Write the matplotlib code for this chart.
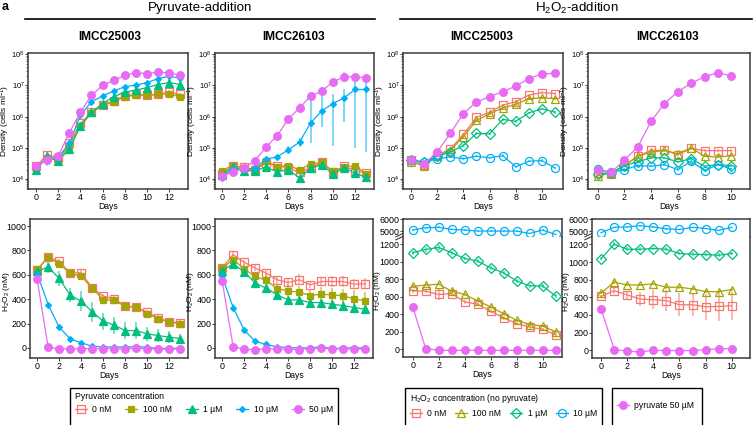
import numpy as np
import matplotlib
matplotlib.use("Agg")
import matplotlib.pyplot as plt
from matplotlib.lines import Line2D
from matplotlib.patches import Rectangle
from matplotlib.ticker import LogLocator, NullFormatter

plt.rcParams['font.family'] = ['Liberation Sans', 'DejaVu Sans']

W, H = 754, 425

# ggplot hue palette: 0 nM, 100 nM, 1 uM, 10 uM, 50 uM pyruvate
COLS = ['#F8766D', '#A3A500', '#00BF7D', '#00B0F6', '#E76BF3']

pyr_labels = ['0 nM', '100 nM', '1 µM', '10 µM', '50 µM']
h2o2_labels = ['0 nM', '100 nM', '1 µM', '10 µM']
pyr50_label = 'pyruvate 50 µM'

days_pyr = list(range(14))
days_h25 = list(range(12))
days_h26 = list(range(11))

# ---- density, log10(cells/ml) ----
den_pyr_25 = [
    [4.41, 4.78, 4.68, 5.14, 5.78, 6.14, 6.38, 6.50, 6.66, 6.71, 6.69, 6.71, 6.79, 6.71],
    [4.32, 4.68, 4.60, 5.07, 5.71, 6.12, 6.36, 6.47, 6.64, 6.69, 6.69, 6.71, 6.74, 6.64],
    [4.30, 4.73, 4.57, 4.96, 5.69, 6.14, 6.42, 6.64, 6.79, 6.85, 6.93, 7.03, 7.09, 7.03],
    [4.35, 4.68, 4.68, 5.14, 6.04, 6.48, 6.66, 6.82, 6.96, 7.01, 7.09, 7.22, 7.30, 7.23],
    [4.41, 4.62, 4.73, 5.48, 6.14, 6.68, 7.00, 7.16, 7.32, 7.41, 7.38, 7.43, 7.40, 7.32],
]
den_pyr_25_err = [
    [0.04, 0.12, 0.05, 0.04, 0.04, 0.04, 0.04, 0.04, 0.04, 0.04, 0.04, 0.04, 0.06, 0.05],
    [0.04, 0.05, 0.04, 0.04, 0.04, 0.04, 0.04, 0.04, 0.04, 0.04, 0.04, 0.04, 0.04, 0.04],
    [0.04, 0.05, 0.04, 0.04, 0.04, 0.05, 0.08, 0.10, 0.10, 0.10, 0.10, 0.12, 0.12, 0.12],
    [0.04, 0.05, 0.04, 0.05, 0.05, 0.05, 0.05, 0.05, 0.05, 0.05, 0.05, 0.05, 0.05, 0.05],
    [0.05, 0.20, 0.05, 0.10, 0.05, 0.05, 0.05, 0.12, 0.05, 0.05, 0.05, 0.05, 0.05, 0.05],
]

den_pyr_26 = [
    [4.16, 4.41, 4.38, 4.30, 4.51, 4.43, 4.35, 4.21, 4.35, 4.54, 4.21, 4.41, 4.27, 4.19],
    [4.27, 4.43, 4.35, 4.30, 4.57, 4.39, 4.43, 4.30, 4.48, 4.54, 4.25, 4.38, 4.43, 4.16],
    [4.14, 4.38, 4.27, 4.27, 4.38, 4.23, 4.30, 4.03, 4.35, 4.46, 4.16, 4.35, 4.19, 4.05],
    [4.03, 4.35, 4.30, 4.35, 4.64, 4.71, 4.94, 5.18, 5.80, 6.18, 6.42, 6.60, 6.87, 6.87],
    [4.11, 4.21, 4.35, 4.59, 5.03, 5.39, 5.93, 6.28, 6.66, 6.82, 7.11, 7.28, 7.28, 7.25],
]
den_pyr_26_err = [
    [0.04, 0.05, 0.05, 0.04, 0.06, 0.05, 0.05, 0.06, 0.05, 0.06, 0.05, 0.05, 0.05, 0.05],
    [0.04, 0.04, 0.04, 0.04, 0.05, 0.04, 0.04, 0.04, 0.04, 0.05, 0.04, 0.04, 0.05, 0.04],
    [0.04, 0.05, 0.04, 0.04, 0.05, 0.05, 0.05, 0.05, 0.06, 0.06, 0.05, 0.05, 0.06, 0.05],
    # 10 uM: lower and upper errors differ a lot
    ([0.04, 0.05, 0.05, 0.05, 0.06, 0.06, 0.12, 0.15, 0.66, 0.50, 1.37, 0.78, 1.87, 2.00],
     [0.04, 0.05, 0.05, 0.05, 0.06, 0.06, 0.12, 0.15, 0.75, 0.48, 0.31, 0.29, 0.34, 0.30]),
    [0.04, 0.04, 0.05, 0.05, 0.05, 0.05, 0.05, 0.15, 0.12, 0.10, 0.10, 0.15, 0.10, 0.08],
]

den_h2o2_25 = [
    [4.60, 4.46, 4.76, 4.96, 5.43, 5.98, 6.14, 6.37, 6.48, 6.69, 6.77, 6.74],
    [4.54, 4.43, 4.73, 4.91, 5.35, 5.88, 6.09, 6.28, 6.39, 6.58, 6.60, 6.58],
    [4.62, 4.54, 4.73, 4.86, 5.07, 5.46, 5.45, 5.91, 5.85, 6.12, 6.25, 6.14],
    [4.60, 4.55, 4.64, 4.71, 4.65, 4.73, 4.68, 4.75, 4.39, 4.57, 4.59, 4.35],
]
den_h2o2_25_pyr = [4.62, 4.48, 4.86, 5.46, 6.10, 6.47, 6.64, 6.80, 6.98, 7.22, 7.37, 7.39]

den_h2o2_26 = [
    [4.19, 4.17, 4.43, 4.73, 4.92, 4.92, 4.78, 4.98, 4.91, 4.91, 4.91],
    [4.11, 4.19, 4.43, 4.73, 4.86, 4.92, 4.81, 5.00, 4.73, 4.70, 4.75],
    [4.17, 4.19, 4.43, 4.55, 4.68, 4.68, 4.55, 4.65, 4.41, 4.46, 4.43],
    [4.32, 4.21, 4.30, 4.43, 4.41, 4.46, 4.30, 4.57, 4.27, 4.46, 4.32],
]
den_h2o2_26_pyr = [4.28, 4.21, 4.60, 5.03, 5.85, 6.42, 6.80, 7.07, 7.28, 7.41, 7.30]

# ---- H2O2 (nM) ----
h_pyr_25 = [
    [640, 745, 712, 616, 616, 493, 425, 403, 342, 334, 293, 247, 214, 205],
    [644, 745, 690, 611, 589, 488, 397, 389, 342, 334, 282, 238, 214, 197],
    [630, 663, 570, 433, 384, 296, 219, 186, 142, 142, 115, 101, 88, 77],
    [608, 356, 170, 74, 41, 14, 8, 8, 8, 10, 6, -5, -5, -2],
    [562, 5, -8, -8, -6, -6, -6, -6, -6, -4, -6, -10, -10, -10],
]
h_pyr_25_err = [
    [15, 15, 20, 20, 20, 20, 20, 20, 20, 20, 20, 25, 30, 30],
    [10, 10, 15, 15, 15, 15, 15, 15, 15, 20, 20, 20, 20, 20],
    [20, 50, 60, 60, 80, 80, 70, 70, 70, 70, 60, 55, 50, 40],
    [10, 15, 10, 8, 5, 5, 5, 5, 5, 5, 5, 5, 5, 5],
    [10, 5, 5, 5, 5, 5, 5, 5, 5, 5, 5, 5, 5, 5],
]

h_pyr_26 = [
    [656, 766, 702, 656, 614, 559, 537, 559, 518, 545, 545, 545, 523, 526],
    [656, 725, 647, 587, 554, 485, 468, 457, 430, 441, 435, 427, 402, 386],
    [634, 691, 623, 532, 490, 435, 394, 394, 372, 372, 358, 347, 331, 317],
    [587, 331, 146, 55, 28, 8, 3, 0, 0, 8, -5, 0, 0, 0],
    [551, 8, -11, -14, -6, -11, -11, -14, -6, 0, -11, -6, -11, -11],
]
h_pyr_26_err = [
    [15, 25, 20, 25, 30, 30, 35, 45, 30, 40, 45, 45, 40, 45],
    [15, 20, 40, 40, 50, 45, 55, 55, 55, 55, 60, 60, 70, 75],
    [15, 15, 20, 20, 20, 25, 20, 20, 25, 25, 25, 35, 40, 25],
    [15, 30, 25, 10, 8, 5, 5, 5, 5, 5, 5, 5, 5, 5],
    [10, 5, 5, 5, 5, 5, 5, 5, 5, 5, 5, 5, 5, 5],
]

h_h2o2_25 = [
    [669, 665, 627, 638, 543, 516, 436, 359, 294, 256, 229, 168],
    [722, 734, 745, 665, 627, 554, 485, 409, 332, 283, 267, 199],
    [1104, 1143, 1165, 1104, 1039, 1009, 932, 875, 783, 726, 726, 611],
    [5086, 5286, 5314, 5143, 5086, 5000, 5000, 5000, 5000, 4800, 5086, 4714],
]
h_h2o2_25_err = [
    [20, 20, 60, 20, 25, 20, 20, 25, 20, 20, 20, 20],
    [15, 15, 15, 20, 15, 15, 15, 15, 15, 15, 15, 15],
    [25, 25, 30, 25, 20, 20, 25, 20, 20, 20, 20, 20],
    [80, 80, 80, 60, 60, 60, 60, 60, 60, 60, 60, 60],
]
h_h2o2_25_pyr = [485, 8, -11, -13, -11, -11, -11, -13, -11, -11, -11, -11]

h_h2o2_26 = [
    [611, 676, 627, 581, 573, 562, 516, 516, 493, 497, 505],
    [650, 772, 741, 741, 753, 715, 715, 696, 665, 665, 688],
    [1039, 1204, 1146, 1146, 1154, 1146, 1097, 1089, 1085, 1078, 1097],
    [4865, 5324, 5351, 5459, 5351, 5189, 5135, 5324, 5216, 5054, 5324],
]
h_h2o2_26_err = [
    [20, 40, 50, 80, 110, 120, 130, 130, 150, 160, 160],
    [15, 20, 15, 15, 15, 15, 15, 15, 15, 15, 15],
    [20, 25, 20, 20, 20, 20, 20, 20, 20, 20, 20],
    [60, 60, 60, 60, 60, 60, 60, 60, 60, 60, 60],
]
h_h2o2_26_pyr = [466, 8, -11, -19, 0, -4, -4, -4, 8, 15, 19]

# marker styles: (marker, filled, size)
PYR_MK = [('s', False, 5.2), ('s', True, 5.0), ('^', True, 5.2), ('D', True, 3.0), ('o', True, 5.5)]
H2_MK = [('s', False, 5.5), ('^', False, 6.0), ('D', False, 5.2), ('o', False, 5.8)]
PYR50_MK = ('o', True, 5.5)

SPINE = '#3a3a3a'
FS_TICK = 6.4
FS_LAB = 6.2
FS_YLAB = 6.0


def fig_axes(x0, y0, x1, y1):
    # pixel box (top-left origin) -> figure axes
    return fig.add_axes([x0 / W, 1 - y1 / H, (x1 - x0) / W, (y1 - y0) / H])


def style(ax, xlim, xticks):
    ax.set_xlim(*xlim)
    ax.set_xticks(xticks)
    for s in ax.spines.values():
        s.set_color(SPINE)
        s.set_linewidth(1.1)
    ax.tick_params(direction='out', length=2.0, width=0.7, color=SPINE,
                   labelsize=FS_TICK, pad=0.8, labelcolor='black')
    ax.tick_params(axis='y', pad=0.5)


def labels(ax, box, ylab, lab_off, ypos=0.5):
    # lab_off: px between the right edge of the y label and the axes
    w = box[2] - box[0]
    h = box[3] - box[1]
    ax.set_xlabel('Days', fontsize=FS_LAB)
    ax.xaxis.set_label_coords(0.5, -12.8 / h)
    ax.set_ylabel(ylab, fontsize=FS_YLAB)
    ax.yaxis.set_label_coords(-lab_off / w, ypos)


def series(ax, x, y, err, color, mk, log=False):
    x = np.asarray(x, float)
    y = np.asarray(y, float)
    if isinstance(err, tuple):
        lo, hi = np.asarray(err[0], float), np.asarray(err[1], float)
    else:
        lo = hi = np.asarray(err, float) if err is not None else np.zeros_like(y)
    if log:
        yv = 10 ** y
        yerr = [yv - 10 ** (y - lo), 10 ** (y + hi) - yv]
    else:
        yv = y
        yerr = [lo, hi]
    ax.errorbar(x, yv, yerr=yerr, fmt='none', ecolor=color, alpha=0.55,
                elinewidth=1.3, capsize=0, zorder=2)
    m, filled, ms = mk
    ax.plot(x, yv, color=color, lw=0.9, marker=m, ms=ms,
            mfc=color if filled else 'none', mec=color, mew=0.9, zorder=3)


def density_panel(box, days, rows, errs, mks, xlim, xticks, extra=None, lab_off=16):
    ax = fig_axes(*box)
    ax.set_yscale('log')
    for i, r in enumerate(rows):
        e = errs[i] if errs is not None else [0.04] * len(r)
        series(ax, days, r, e, COLS[i], mks[i], log=True)
    if extra is not None:
        series(ax, days, extra, [0.04] * len(extra), COLS[4], PYR50_MK, log=True)
    ax.set_ylim(10 ** 3.68, 10 ** 8.04)
    ax.yaxis.set_major_locator(LogLocator(base=10, numticks=10))
    ax.yaxis.set_minor_locator(LogLocator(base=10, subs=np.arange(2, 10), numticks=10))
    ax.yaxis.set_minor_formatter(NullFormatter())
    style(ax, xlim, xticks)
    ax.tick_params(axis='y', which='major', labelsize=5.4)
    ax.tick_params(axis='y', which='minor', length=1.2, width=0.5, color=SPINE)
    labels(ax, box, r'Density (cells $\mathregular{ml^{-1}}$)', lab_off)
    return ax


def h2o2_pyr_panel(box, days, rows, errs, lab_off=18):
    ax = fig_axes(*box)
    for i, r in enumerate(rows):
        series(ax, days, r, errs[i], COLS[i], PYR_MK[i])
    ax.set_ylim(-83, 1058)
    ax.set_yticks([0, 200, 400, 600, 800, 1000])
    style(ax, (-0.65, 13.7), range(0, 13, 2))
    labels(ax, box, r'$\mathregular{H_2O_2}$ (nM)', lab_off, ypos=0.48)


def h2o2_broken_panel(box, days, rows, errs, pyr, xlim, lab_off=20):
    x0, y0, x1, y1 = box
    ybrk = 236.8
    up = fig_axes(x0, y0, x1, ybrk)
    lo = fig_axes(x0, ybrk, x1, y1)
    for ax in (up, lo):
        for i, r in enumerate(rows):
            series(ax, days, r, errs[i], COLS[i], H2_MK[i])
        series(ax, days, pyr, [8] + [5] * (len(pyr) - 1), COLS[4], PYR50_MK)
        style(ax, xlim, range(0, 11, 2))
    up.set_ylim(4510, 6030)
    up.set_yticks([5000, 6000])
    lo.set_ylim(-88, 1287)
    lo.set_yticks([0, 200, 400, 600, 800, 1000, 1200])
    up.spines['bottom'].set_visible(False)
    lo.spines['top'].set_visible(False)
    up.tick_params(axis='x', which='both', bottom=False, labelbottom=False)
    labels(lo, (x0, ybrk, x1, y1), r'$\mathregular{H_2O_2}$ (nM)', lab_off, ypos=0.55)
    # break marks on the left spine
    for dy in (0.0, 0.025):
        lo.plot([-0.045, -0.005], [0.975 + dy, 1.0 + dy], transform=lo.transAxes,
                color=SPINE, lw=0.8, clip_on=False)


fig = plt.figure(figsize=(W / 100, H / 100), dpi=100)

# headers
fig.text(2 / W, 1 - 1 / H, 'a', fontsize=9, fontweight='bold', va='top', ha='left')
fig.text(200 / W, 1 - 8 / H, 'Pyruvate-addition', fontsize=9.6, ha='center', va='center')
fig.text(577 / W, 1 - 8 / H, r'$\mathregular{H_2O_2}$-addition', fontsize=9.6, ha='center', va='center')
fig.add_artist(Line2D([25 / W, 375 / W], [1 - 19 / H] * 2, color='black', lw=1.2))
fig.add_artist(Line2D([400 / W, 752 / W], [1 - 19 / H] * 2, color='black', lw=1.2))
for xc, name in [(110, 'IMCC25003'), (294, 'IMCC26103'), (482, 'IMCC25003'), (668, 'IMCC26103')]:
    fig.text(xc / W, 1 - 37 / H, name, fontsize=8.5, fontweight='bold', ha='center', va='center')

# top row: density
density_panel((28, 53, 188, 189), days_pyr, den_pyr_25, den_pyr_25_err, PYR_MK,
              (-0.72, 13.7), range(0, 13, 2), lab_off=15.5)
density_panel((215, 53, 374, 189), days_pyr, den_pyr_26, den_pyr_26_err, PYR_MK,
              (-0.6, 13.7), range(0, 13, 2), lab_off=16)
density_panel((403, 53, 563, 189), days_h25, den_h2o2_25, None, H2_MK,
              (-0.6, 11.6), range(0, 11, 2), extra=den_h2o2_25_pyr, lab_off=16)
density_panel((588, 53, 750, 189), days_h26, den_h2o2_26, None, H2_MK,
              (-0.72, 11.4), range(0, 11, 2), extra=den_h2o2_26_pyr, lab_off=16)

# bottom row: H2O2
h2o2_pyr_panel((30, 219, 188, 358), days_pyr, h_pyr_25, h_pyr_25_err, lab_off=18)
h2o2_pyr_panel((215, 219, 373, 358), days_pyr, h_pyr_26, h_pyr_26_err, lab_off=19)
h2o2_broken_panel((403, 219, 562, 357), days_h25, h_h2o2_25, h_h2o2_25_err, h_h2o2_25_pyr,
                  (-0.75, 11.5), lab_off=20)
h2o2_broken_panel((592, 219, 750, 358), days_h26, h_h2o2_26, h_h2o2_26_err, h_h2o2_26_pyr,
                  (-0.7, 11.4), lab_off=20)


# legends
def handle(color, mk):
    m, filled, ms = mk
    return Line2D([], [], color=color, lw=0.9, marker=m, ms=ms,
                  mfc=color if filled else 'none', mec=color, mew=0.9)


def leg_box(x0, x1, ytop):
    fig.add_artist(Rectangle((x0 / W, -0.05), (x1 - x0) / W, 1 - ytop / H + 0.05,
                             transform=fig.transFigure, fill=False, ec='black', lw=1.0))


leg_box(70, 338, 388)
fig.legend([handle(COLS[i], PYR_MK[i]) for i in range(5)], pyr_labels,
           loc='upper left', bbox_to_anchor=(72 / W, 0, 264 / W, 1 - 389 / H),
           mode='expand', ncol=5, frameon=False, fontsize=FS_LAB,
           title='Pyruvate concentration', title_fontsize=FS_LAB, alignment='left',
           handlelength=1.4, handletextpad=0.6, borderaxespad=0, borderpad=0.3)

leg_box(405, 602, 388)
fig.legend([handle(COLS[i], H2_MK[i]) for i in range(4)], h2o2_labels,
           loc='upper left', bbox_to_anchor=(407 / W, 0, 193 / W, 1 - 389 / H),
           mode='expand', ncol=4, frameon=False, fontsize=FS_LAB,
           title=r'$\mathregular{H_2O_2}$ concentration (no pyruvate)', title_fontsize=FS_LAB,
           alignment='left', handlelength=1.4, handletextpad=0.6, borderaxespad=0, borderpad=0.3)

leg_box(612, 702, 388)
fig.legend([handle(COLS[4], PYR50_MK)], [pyr50_label],
           loc='upper left', bbox_to_anchor=(614 / W, 0, 86 / W, 1 - 398 / H),
           frameon=False, fontsize=FS_LAB, handlelength=1.4, handletextpad=0.6,
           borderaxespad=0, borderpad=0.3)

fig.savefig('out.png', dpi=100)
